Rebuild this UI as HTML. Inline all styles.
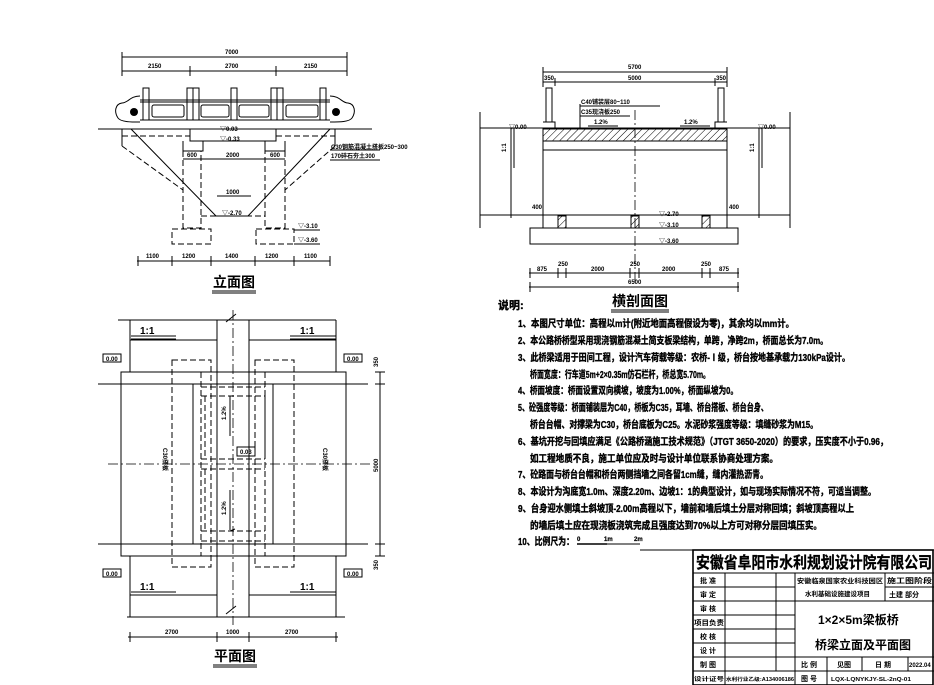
<!DOCTYPE html>
<html><head><meta charset="utf-8"><style>
html,body{margin:0;padding:0;background:#fff}
svg{display:block}
text{font-family:"Liberation Sans","Noto Sans CJK SC",sans-serif;font-weight:bold;fill:#000}
.s{stroke:#000;stroke-width:1;fill:none}
.t{stroke:#000;stroke-width:1.6;fill:none}
.d{stroke:#000;stroke-width:1;fill:none;stroke-dasharray:6 3}
.c{stroke:#000;stroke-width:0.8;fill:none;stroke-dasharray:10 3 2 3}
.sm{font-size:6px}
.n{font-size:10px}
.n text{stroke:#000;stroke-width:0.35}
</style></head><body>
<svg width="934" height="685" viewBox="0 0 934 685" xmlns="http://www.w3.org/2000/svg">
<defs>
<pattern id="h" width="5" height="5" patternUnits="userSpaceOnUse" patternTransform="rotate(45)"><line x1="0" y1="0" x2="0" y2="5" stroke="#000" stroke-width="1"/></pattern>
</defs>

<!-- ===== ELEVATION ===== -->
<g>
<line class="s" x1="122" y1="57" x2="347" y2="57"/><text class="sm" x="225" y="54">7000</text>
<line class="s" x1="122" y1="71" x2="347" y2="71"/>
<g class="s"><path d="M122 52v24M190 66v10M276 66v10M347 52v24"/></g>
<text class="sm" x="148" y="68">2150</text><text class="sm" x="225" y="68">2700</text><text class="sm" x="304" y="68">2150</text>
<g class="s">
<path d="M140 100H330M140 102H330M140 120H330"/>
<path d="M143 88h6v32h-6zM187 88h6v32h-6zM193 88h6v32h-6zM231 88h6v32h-6zM271 88h6v32h-6zM277 88h6v32h-6zM320 88h6v32h-6z"/>
<rect x="152" y="105" width="32" height="12" rx="2"/><rect x="201" y="105" width="28" height="12" rx="2"/><rect x="239" y="105" width="30" height="12" rx="2"/><rect x="286" y="105" width="32" height="12" rx="2"/>
<path d="M140 96 C130 96 128 103 122 103 C115 104 114 112 118 118 C121 122 130 122 140 122"/>
<path d="M330 96 C340 96 342 103 348 103 C355 104 356 112 352 118 C349 122 340 122 330 122"/>
</g>
<circle cx="134" cy="112" r="4" fill="#000"/><circle cx="336" cy="112" r="4" fill="#000"/>
<line class="s" x1="98" y1="129" x2="372" y2="129"/>
<rect class="s" x="190" y="129" width="86" height="12"/>
<line class="d" x1="122" y1="136" x2="190" y2="136"/><line class="d" x1="276" y1="136" x2="335" y2="136"/>
<path class="s" d="M122 129v17M335 129v17"/>
<path class="s" d="M183 141v10h20v-10M265 141v10h20v-10"/>
<path class="d" d="M122 146L183 190M335 146L285 190M183 151v77h18v-77M285 151v77h-20v-77M201 216h64"/>
<rect class="d" x="172" y="229" width="39" height="15"/><rect class="d" x="256" y="229" width="38" height="15"/>
<path class="s" d="M131 129L216 216H248L330 129"/>
<line class="s" x1="183" y1="159" x2="285" y2="159"/><text class="sm" x="187" y="157">600</text><text class="sm" x="226" y="157">2000</text><text class="sm" x="270" y="157">600</text>
<line class="s" x1="217" y1="196" x2="251" y2="196"/><text class="sm" x="226" y="194">1000</text>
<text class="sm" x="220" y="131">▽0.03</text><text class="sm" x="220" y="141">▽-0.33</text><text class="sm" x="222" y="215">▽-2.70</text>
<line class="s" x1="294" y1="230" x2="320" y2="230"/><text class="sm" x="298" y="228">▽-3.10</text>
<line class="s" x1="294" y1="244" x2="320" y2="244"/><text class="sm" x="298" y="242">▽-3.60</text>
<text class="sm" x="331" y="149">C30钢筋混凝土搭板250~300</text><text class="sm" x="331" y="158">170碎石夯土300</text>
<path class="s" d="M330 150H380M330 160H380"/>
<line class="s" x1="137" y1="261" x2="330" y2="261"/>
<g class="s"><path d="M138 256v10M172 256v10M211 256v10M255 256v10M294 256v10M330 256v10"/></g>
<text class="sm" x="146" y="258">1100</text><text class="sm" x="182" y="258">1200</text><text class="sm" x="225" y="258">1400</text><text class="sm" x="265" y="258">1200</text><text class="sm" x="304" y="258">1100</text>
<text x="213" y="287" style="font-size:14px">立面图</text><path class="s" d="M212 291h44M212 293h44"/>
</g>

<!-- ===== SECTION ===== -->
<g>
<line class="s" x1="543" y1="72" x2="727" y2="72"/><text class="sm" x="628" y="69">5700</text>
<line class="s" x1="543" y1="82" x2="727" y2="82"/>
<g class="s"><path d="M543 67v20M555 78v8M715 78v8M727 67v20"/></g>
<text class="sm" x="544" y="80">350</text><text class="sm" x="628" y="80">5000</text><text class="sm" x="716" y="80">350</text>
<path class="s" d="M546 88h6v34h-6zM718 88h6v34h-6zM543 122h12v7M727 122h-12v7"/>
<line class="s" x1="480" y1="128" x2="790" y2="128"/>
<rect x="543" y="129" width="184" height="12" fill="url(#h)" stroke="#000"/>
<rect class="s" x="543" y="141" width="184" height="9"/>
<path class="s" d="M543 150v78M727 150v78M480 112v116M790 112v116M480 215H790"/>
<rect class="s" x="530" y="228" width="208" height="16"/>
<rect x="558" y="216" width="8" height="12" fill="url(#h)" stroke="#000"/>
<rect x="631" y="216" width="8" height="12" fill="url(#h)" stroke="#000"/>
<rect x="702" y="216" width="8" height="12" fill="url(#h)" stroke="#000"/>
<line class="c" x1="635" y1="110" x2="635" y2="285"/>
<path class="s" d="M580 104v24M580 106h80M580 116h50"/>
<text class="sm" x="581" y="104">C40铺装层80~110</text><text class="sm" x="581" y="114">C35现浇板250</text>
<path class="s" d="M588 126h30M680 126h30"/><text class="sm" x="594" y="124">1.2%</text><text class="sm" x="684" y="124">1.2%</text>
<text class="sm" x="509" y="129">▽0.00</text><text class="sm" x="758" y="129">▽0.00</text>
<path class="s" d="M511 128v90M514 128v40M759 128v90M762 128v40"/>
<text class="sm" transform="translate(506,152) rotate(-90)">1:1</text><text class="sm" transform="translate(754,152) rotate(-90)">1:1</text>
<text class="sm" x="532" y="209">400</text><text class="sm" x="729" y="209">400</text>
<text class="sm" x="659" y="216">▽-2.70</text><text class="sm" x="659" y="227">▽-3.10</text><text class="sm" x="659" y="243">▽-3.60</text>
<line class="s" x1="529" y1="273" x2="739" y2="273"/>
<g class="s"><path d="M530 268v10M558 268v10M566 268v10M630 268v10M639 268v10M702 268v10M710 268v10M738 268v10"/></g>
<text class="sm" x="537" y="271">875</text><text class="sm" x="558" y="266">250</text><text class="sm" x="591" y="271">2000</text><text class="sm" x="630" y="266">250</text><text class="sm" x="662" y="271">2000</text><text class="sm" x="701" y="266">250</text><text class="sm" x="719" y="271">875</text>
<line class="s" x1="529" y1="287" x2="739" y2="287"/><g class="s"><path d="M530 282v10M738 282v10"/></g><text class="sm" x="628" y="284">6500</text>
<text x="612" y="306" style="font-size:14px">横剖面图</text><path class="s" d="M611 310h58M611 312h58"/>
</g>

<!-- ===== NOTES ===== -->
<g class="n">
<text x="498" y="309" style="font-size:11px">说明:</text>
<text x="518" y="327" textLength="276" lengthAdjust="spacingAndGlyphs">1、本图尺寸单位：高程以m计(附近地面高程假设为零)，其余均以mm计。</text>
<text x="518" y="344" textLength="310" lengthAdjust="spacingAndGlyphs">2、本公路桥桥型采用现浇钢筋混凝土简支板梁结构，单跨，净跨2m，桥面总长为7.0m。</text>
<text x="518" y="361" textLength="332" lengthAdjust="spacingAndGlyphs">3、此桥梁适用于田间工程，设计汽车荷载等级：农桥-Ⅰ级，桥台按地基承载力130kPa设计。</text>
<text x="530" y="378" textLength="180" lengthAdjust="spacingAndGlyphs">桥面宽度：行车道5m+2×0.35m仿石栏杆，桥总宽5.70m。</text>
<text x="518" y="394" textLength="220" lengthAdjust="spacingAndGlyphs">4、桥面坡度：桥面设置双向横坡，坡度为1.00%，桥面纵坡为0。</text>
<text x="518" y="411" textLength="250" lengthAdjust="spacingAndGlyphs">5、砼强度等级：桥面铺装层为C40，桥板为C35，耳墙、桥台搭板、桥台台身、</text>
<text x="530" y="428" textLength="288" lengthAdjust="spacingAndGlyphs">桥台台帽、对撑梁为C30，桥台底板为C25。水泥砂浆强度等级：填缝砂浆为M15。</text>
<text x="518" y="445" textLength="370" lengthAdjust="spacingAndGlyphs">6、基坑开挖与回填应满足《公路桥涵施工技术规范》（JTGT 3650-2020）的要求，压实度不小于0.96，</text>
<text x="530" y="462" textLength="248" lengthAdjust="spacingAndGlyphs">如工程地质不良，施工单位应及时与设计单位联系协商处理方案。</text>
<text x="518" y="478" textLength="250" lengthAdjust="spacingAndGlyphs">7、砼路面与桥台台帽和桥台两侧挡墙之间各留1cm缝，缝内灌热沥青。</text>
<text x="518" y="495" textLength="358" lengthAdjust="spacingAndGlyphs">8、本设计为沟底宽1.0m、深度2.20m、边坡1：1的典型设计，如与现场实际情况不符，可适当调整。</text>
<text x="518" y="512" textLength="336" lengthAdjust="spacingAndGlyphs">9、台身迎水侧填土斜坡顶-2.00m高程以下，墙前和墙后填土分层对称回填；斜坡顶高程以上</text>
<text x="530" y="529" textLength="292" lengthAdjust="spacingAndGlyphs">的墙后填土应在现浇板浇筑完成且强度达到70%以上方可对称分层回填压实。</text>
<text x="518" y="545" textLength="56" lengthAdjust="spacingAndGlyphs">10、比例尺为：</text>
<text class="sm" x="577" y="541" style="stroke-width:0.2">0</text><text class="sm" x="604" y="541" style="stroke-width:0.2">1m</text><text class="sm" x="634" y="541" style="stroke-width:0.2">2m</text>
<path class="t" d="M577 544h30"/><path class="s" d="M607 544h33"/>
<path class="s" d="M640 550H934M693 550v135"/>
</g>

<!-- ===== PLAN ===== -->
<g>
<path class="s" d="M118 320H336M130 320v52M336 320v52M217 320v297M249 320v297M130 340h87M249 340h87"/>
<path class="s" d="M130 556v61M336 556v61M130 595h87M249 595h87M127 617H345"/>
<path class="s" d="M131 336h45M131 339h45M290 336h46M290 339h46M131 592h45M131 595h45M290 592h46M290 595h46"/>
<text class="n" x="140" y="334">1:1</text><text class="n" x="300" y="334">1:1</text><text class="n" x="140" y="590">1:1</text><text class="n" x="300" y="590">1:1</text>
<rect class="s" x="103" y="354" width="18" height="8"/><text class="sm" x="106" y="361">0.00</text>
<rect class="s" x="344" y="354" width="18" height="8"/><text class="sm" x="347" y="361">0.00</text>
<rect class="s" x="103" y="569" width="18" height="8"/><text class="sm" x="106" y="576">0.00</text>
<rect class="s" x="344" y="569" width="18" height="8"/><text class="sm" x="347" y="576">0.00</text>
<rect class="s" x="121" y="372" width="225" height="184" fill="#fff"/>
<path class="s" d="M98 384H368M98 544H368M193 384v160M273 384v160"/>
<rect class="d" x="172" y="360" width="39" height="207"/><rect class="d" x="255" y="360" width="39" height="207"/>
<path class="d" d="M201 372v184M265 372v184M201 387h64M201 396h64M201 459h64M201 469h64M201 531h64M201 541h64M205 396v63M265 396v63M205 469v62"/>
<path class="s" d="M230 396v40M230 490v40M230 531l5-2"/>
<text class="sm" transform="translate(226,420) rotate(-90)">1.2%</text><text class="sm" transform="translate(226,515) rotate(-90)">1.2%</text>
<rect class="s" x="237" y="447" width="18" height="9"/><text class="sm" x="240" y="454">0.03</text>
<line class="c" x1="233" y1="310" x2="233" y2="625"/><line class="c" x1="108" y1="464" x2="372" y2="464"/>
<path class="s" d="M226 322l10-8M226 614l10-8"/>
<text class="sm" transform="translate(163,448) rotate(90)">C30搭板</text><text class="sm" transform="translate(323,448) rotate(90)">C30搭板</text>
<path class="s" d="M380 372v184M375 372h10M375 384h10M375 544h10M375 556h10"/>
<text class="sm" transform="translate(378,367) rotate(-90)">350</text><text class="sm" transform="translate(378,472) rotate(-90)">5000</text><text class="sm" transform="translate(378,570) rotate(-90)">350</text>
<line class="s" x1="128" y1="637" x2="338" y2="637"/>
<g class="s"><path d="M130 632v10M217 632v10M249 632v10M336 632v10"/></g>
<text class="sm" x="165" y="634">2700</text><text class="sm" x="226" y="634">1000</text><text class="sm" x="285" y="634">2700</text>
<text x="214" y="661" style="font-size:14px">平面图</text><path class="s" d="M213 665h44M213 667h44"/>
</g>

<!-- ===== TITLE BLOCK ===== -->
<g>
<rect class="t" x="693" y="550" width="240" height="135"/>
<text x="696" y="568" style="font-size:16px;stroke:#000;stroke-width:0.3" textLength="236" lengthAdjust="spacingAndGlyphs">安徽省阜阳市水利规划设计院有限公司</text>
<path class="s" d="M693 573H934M693 587H795M885 587H934M693 601H934M693 615H795M693 629H795M693 643H795M693 657H934M693 671H934M725 573v112M776 573v98M795 573v112M885 573v28M827 657v28M862 657v14M908 657v14"/>
<g style="font-size:7px">
<text x="700" y="583">批 准</text><text x="700" y="597">审 定</text><text x="700" y="611">审 核</text><text x="694" y="625" textLength="30" lengthAdjust="spacingAndGlyphs">项目负责</text><text x="700" y="639">校 核</text><text x="700" y="653">设 计</text><text x="700" y="667">制 图</text>
<text x="797" y="583" style="font-size:6.5px" textLength="86" lengthAdjust="spacingAndGlyphs">安徽临泉国家农业科技园区</text><text x="805" y="596" style="font-size:6.5px">水利基础设施建设项目</text>
<text x="887" y="583" textLength="45" lengthAdjust="spacingAndGlyphs">施工图阶段</text><text x="889" y="597">土建 部分</text>
<text x="801" y="667">比 例</text><text x="837" y="667">见图</text><text x="875" y="667">日 期</text><text x="909" y="667" style="font-size:6px">2022.04</text>
<text x="694" y="681" style="font-size:5.5px" textLength="30" lengthAdjust="spacingAndGlyphs">设计证号</text><text x="726" y="681" style="font-size:5px" textLength="68" lengthAdjust="spacingAndGlyphs">水利行业乙级:A134006186</text><text x="801" y="681">图 号</text><text x="831" y="681" style="font-size:5.5px" textLength="80" lengthAdjust="spacingAndGlyphs">LQX-LQNYKJY-SL-2nQ-01</text>
</g>
<text x="818" y="624" style="font-size:12px">1×2×5m梁板桥</text>
<text x="815" y="649" style="font-size:12px">桥梁立面及平面图</text>
</g>
</svg>
</body></html>
